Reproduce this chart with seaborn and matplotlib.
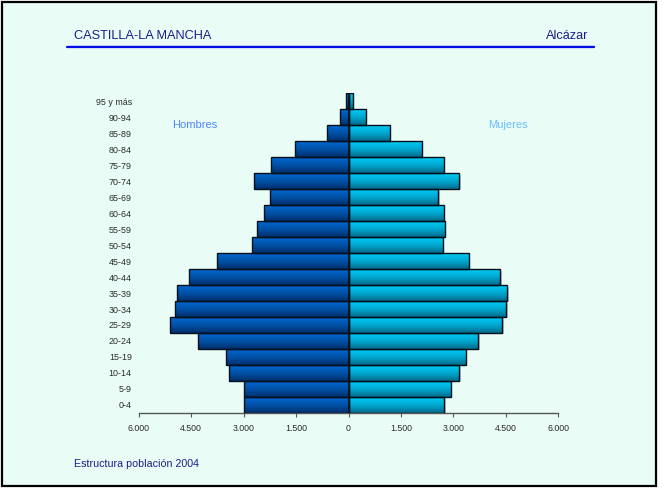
import numpy as np
import pandas as pd
import matplotlib
matplotlib.use("Agg")
import matplotlib.pyplot as plt
from matplotlib.patches import Rectangle
from matplotlib.colors import LinearSegmentedColormap
import matplotlib.transforms as mtransforms
import seaborn as sns

# Age groups, oldest first (top of the pyramid)
age_groups = ["95 y más", "90-94", "85-89", "80-84", "75-79", "70-74", "65-69",
              "60-64", "55-59", "50-54", "45-49", "40-44", "35-39", "30-34",
              "25-29", "20-24", "15-19", "10-14", "5-9", "0-4"]
hombres = [65, 237, 608, 1521, 2225, 2690, 2245, 2416, 2605, 2748,
           3775, 4556, 4898, 4973, 5107, 4317, 3500, 3424, 2976, 2976]
mujeres = [123, 494, 1179, 2102, 2720, 3167, 2568, 2720, 2748, 2691,
           3433, 4346, 4537, 4517, 4403, 3709, 3358, 3167, 2930, 2739]
xtick_values = [-6000, -4500, -3000, -1500, 0, 1500, 3000, 4500, 6000]
xtick_labels = ["6.000", "4.500", "3.000", "1.500", "0", "1.500", "3.000", "4.500", "6.000"]

BG = "#E9FDF6"
NAVY = "#1C1C8A"

df = pd.DataFrame({
    "edad": age_groups * 2,
    "poblacion": [-v for v in hombres] + list(mujeres),
    "sexo": ["Hombres"] * len(age_groups) + ["Mujeres"] * len(age_groups),
})

sns.set_style("white")
plt.rcParams["font.family"] = ["Liberation Sans", "DejaVu Sans"]

fig = plt.figure(figsize=(6.67, 4.88), dpi=100)
fig.patch.set_facecolor("white")

# framed panel behind everything
frame = Rectangle((2 / 667, 2 / 488), 654 / 667, 484 / 488, transform=fig.transFigure,
                  facecolor=BG, edgecolor="black", linewidth=1.6, zorder=-10)
fig.add_artist(frame)

ax = fig.add_axes([0.208, 0.1537, 0.629, 0.6557])
ax.set_facecolor("none")
ax.set_zorder(1)

sns.barplot(data=df, y="edad", x="poblacion", hue="sexo", order=age_groups,
            hue_order=["Hombres", "Mujeres"], dodge=False, width=0.95,
            palette=["#0060C0", "#00C8F0"], orient="h", legend=False,
            edgecolor="none", linewidth=0, ax=ax)

grad_men = LinearSegmentedColormap.from_list("m", ["#0068CF", "#0052A8", "#002E6A"])
grad_women = LinearSegmentedColormap.from_list("w", ["#00CCF4", "#00A8D0", "#006C8C"])
ramp = np.linspace(0, 1, 64).reshape(-1, 1)

shadow_off = mtransforms.ScaledTranslation(1.5 / 100, -1.5 / 100, fig.dpi_scale_trans)
for patch in list(ax.patches):
    x0, y0 = patch.get_x(), patch.get_y()
    w, h = patch.get_width(), patch.get_height()
    if w == 0:
        continue
    cmap = grad_men if w < 0 else grad_women
    xa, xb = min(x0, x0 + w), max(x0, x0 + w)
    ya, yb = min(y0, y0 + h), max(y0, y0 + h)
    # soft drop shadow
    ax.add_patch(Rectangle((xa, ya), xb - xa, yb - ya, facecolor="#7A8A88", alpha=0.45,
                           edgecolor="none", transform=ax.transData + shadow_off, zorder=1))
    patch.set_zorder(2)
    im = ax.imshow(ramp, cmap=cmap, aspect="auto", extent=(xa, xb, yb, ya),
                   origin="upper", zorder=2.5, interpolation="bilinear")
    im.set_clip_path(patch)
    ax.add_patch(Rectangle((xa, ya), xb - xa, yb - ya, fill=False,
                           edgecolor="#06101C", linewidth=1.0, zorder=3))

ax.set_xlim(-6000, 6000)
ax.set_ylim(len(age_groups) - 0.5, -0.5)
ax.axvline(0, color="#06101C", linewidth=1.2, zorder=4)

ax.set_xticks(xtick_values)
ax.set_xticklabels(xtick_labels)
ax.set_xlabel("")
ax.set_ylabel("")
ax.tick_params(axis="x", labelsize=6.3, length=3, width=0.8,
               direction="out", pad=5, bottom=True, color="#555555")
ax.tick_params(axis="y", labelsize=6.4, length=0, pad=5)
for lab in ax.get_xticklabels() + ax.get_yticklabels():
    lab.set_color("#2A2A2A")

for side in ["top", "right", "left"]:
    ax.spines[side].set_visible(False)
ax.spines["bottom"].set_color("#555555")
ax.spines["bottom"].set_linewidth(1.0)

ax.text(0.079, 0.90, "Hombres", transform=ax.transAxes, fontsize=8,
        color="#4F86FF", va="center", ha="left")
ax.text(0.832, 0.90, "Mujeres", transform=ax.transAxes, fontsize=8,
        color="#6DBBFF", va="center", ha="left")

# header
fig.text(74 / 667, 1 - 36 / 488, "CASTILLA-LA MANCHA", fontsize=9.2, color=NAVY,
         ha="left", va="center")
fig.text(588 / 667, 1 - 36 / 488, "Alcázar", fontsize=9.2, color=NAVY,
         ha="right", va="center")
fig.add_artist(plt.Line2D([67 / 667, 594 / 667], [1 - 45.6 / 488] * 2,
                          transform=fig.transFigure, color="#7C86FF", linewidth=1.0))
fig.add_artist(plt.Line2D([67 / 667, 594 / 667], [1 - 47.4 / 488] * 2,
                          transform=fig.transFigure, color="#0010E6", linewidth=1.6))

# footer
fig.text(74 / 667, 1 - 464.3 / 488, "Estructura población 2004", fontsize=7.7,
         color=NAVY, ha="left", va="center")

fig.savefig("out.png", dpi=100, facecolor=fig.get_facecolor())
